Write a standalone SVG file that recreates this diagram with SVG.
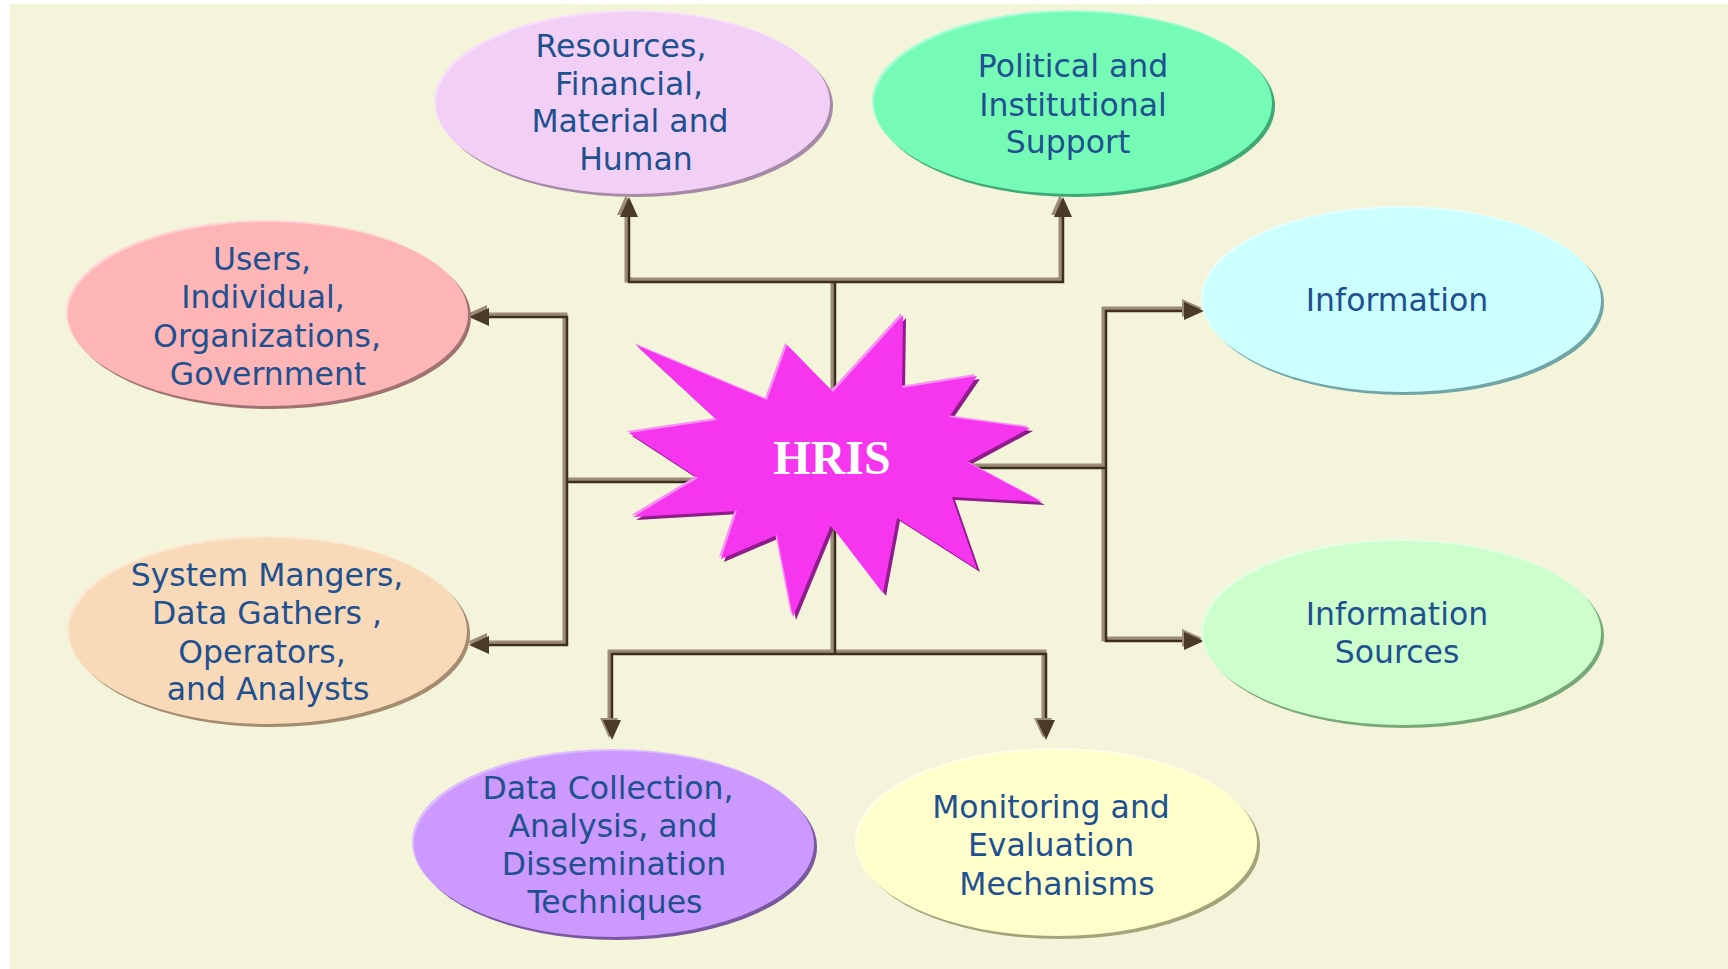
<svg xmlns="http://www.w3.org/2000/svg" xmlns:xlink="http://www.w3.org/1999/xlink" width="1728" height="969" viewBox="0 0 1728 969">
<style>
.lbl{font-family:"DejaVu Sans","Verdana",sans-serif;font-size:31.5px;fill:#1F5090;text-anchor:middle}
.hris{font-family:"Liberation Serif","Times New Roman",serif;font-size:48px;font-weight:bold;fill:#FFFFFF;text-anchor:middle}
.pipeL{fill:none;stroke:#9A8C76;stroke-width:5;stroke-linejoin:miter}
.pipeD{fill:none;stroke:#3C2F1F;stroke-width:2.5;stroke-linejoin:miter}
.ah{fill:#4A3A26}
.ahL{fill:#9A8C76}
</style>
<defs>
<path id="ah" d="M0,0 L-20,-9 L-20,9 Z"/>
</defs>
<rect x="0" y="0" width="1728" height="969" fill="#FFFFFF"/>
<rect x="10" y="4" width="1718" height="965" fill="#F4F4DA"/>

<g id="connectors">
  <g class="pipeL">
    <path d="M833,450 V280 M627,212 V280 H1061 V212"/>
    <path d="M833,450 V652 M610,722 V652 H1044 V722"/>
    <path d="M832,480 H565 M484,315 H565 V643 H484"/>
    <path d="M832,466 H1104 M1186,309 H1104 V639 H1186"/>
  </g>
  <g class="pipeD" transform="translate(2,2)">
    <path d="M833,450 V280 M627,212 V280 H1061 V212"/>
    <path d="M833,450 V652 M610,722 V652 H1044 V722"/>
    <path d="M832,480 H565 M484,315 H565 V643 H484"/>
    <path d="M832,466 H1104 M1186,309 H1104 V639 H1186"/>
  </g>
  <g class="ahL">
    <use xlink:href="#ah" href="#ah" transform="translate(626,195) rotate(-90)"/>
    <use xlink:href="#ah" href="#ah" transform="translate(1060,195) rotate(-90)"/>
    <use xlink:href="#ah" href="#ah" transform="translate(609,738) rotate(90)"/>
    <use xlink:href="#ah" href="#ah" transform="translate(1043,738) rotate(90)"/>
    <use xlink:href="#ah" href="#ah" transform="translate(467,314) rotate(180)"/>
    <use xlink:href="#ah" href="#ah" transform="translate(467,642) rotate(180)"/>
    <use xlink:href="#ah" href="#ah" transform="translate(1202,308)"/>
    <use xlink:href="#ah" href="#ah" transform="translate(1202,638)"/>
  </g>
  <g class="ah">
    <use xlink:href="#ah" href="#ah" transform="translate(629,197) rotate(-90)"/>
    <use xlink:href="#ah" href="#ah" transform="translate(1063,197) rotate(-90)"/>
    <use xlink:href="#ah" href="#ah" transform="translate(612,740) rotate(90)"/>
    <use xlink:href="#ah" href="#ah" transform="translate(1046,740) rotate(90)"/>
    <use xlink:href="#ah" href="#ah" transform="translate(469,317) rotate(180)"/>
    <use xlink:href="#ah" href="#ah" transform="translate(469,645) rotate(180)"/>
    <use xlink:href="#ah" href="#ah" transform="translate(1204,311)"/>
    <use xlink:href="#ah" href="#ah" transform="translate(1204,641)"/>
  </g>
</g>

<g id="hris">
  <polygon transform="translate(3,3)" fill="#8E1C8A" points="636,345 767,400 787,345 833,392 903,315 902,388 977,376 949,417 1030,428 967,462 1042,502 952,497 977,569 897,518 883,593 831,525 793,617 777,535 721,559 737,511 633,517 698,478 629,433 717,420"/>
  <polygon transform="translate(-2,-2)" fill="#F98EF4" points="636,345 767,400 787,345 833,392 903,315 902,388 977,376 949,417 1030,428 967,462 1042,502 952,497 977,569 897,518 883,593 831,525 793,617 777,535 721,559 737,511 633,517 698,478 629,433 717,420"/>
  <polygon fill="#F635EE" points="636,345 767,400 787,345 833,392 903,315 902,388 977,376 949,417 1030,428 967,462 1042,502 952,497 977,569 897,518 883,593 831,525 793,617 777,535 721,559 737,511 633,517 698,478 629,433 717,420"/>
  <text class="hris" x="832" y="474">HRIS</text>
</g>

<g id="resources">
  <ellipse cx="636" cy="106" rx="197" ry="91" fill="#A58AA6"/>
  <ellipse cx="631" cy="101" rx="197" ry="91" fill="#F8E0FA"/>
  <ellipse cx="633" cy="103" rx="197" ry="91" fill="#F2D0F6"/>
  <text class="lbl" x="621" y="57">Resources,</text>
  <text class="lbl" x="629" y="94.5">Financial,</text>
  <text class="lbl" x="630" y="132">Material and</text>
  <text class="lbl" x="636" y="169.5">Human</text>
</g>

<g id="political">
  <ellipse cx="1076" cy="106" rx="199" ry="91" fill="#3FA874"/>
  <ellipse cx="1071" cy="101" rx="199" ry="91" fill="#A8FDD6"/>
  <ellipse cx="1073" cy="103" rx="199" ry="91" fill="#76FBB6"/>
  <text class="lbl" x="1073" y="77">Political and</text>
  <text class="lbl" x="1073" y="116">Institutional</text>
  <text class="lbl" x="1068" y="153">Support</text>
</g>

<g id="users">
  <ellipse cx="271" cy="317" rx="200" ry="92" fill="#A07272"/>
  <ellipse cx="266" cy="312" rx="200" ry="92" fill="#FFD4D4"/>
  <ellipse cx="268" cy="314" rx="200" ry="92" fill="#FDB5B5"/>
  <text class="lbl" x="262" y="270">Users,</text>
  <text class="lbl" x="263" y="308">Individual,</text>
  <text class="lbl" x="267" y="347">Organizations,</text>
  <text class="lbl" x="268" y="385">Government</text>
</g>

<g id="system">
  <ellipse cx="271" cy="634" rx="199" ry="93" fill="#A48C70"/>
  <ellipse cx="266" cy="629" rx="199" ry="93" fill="#FCE8D2"/>
  <ellipse cx="268" cy="631" rx="199" ry="93" fill="#F8DAB8"/>
  <text class="lbl" x="267" y="586">System Mangers,</text>
  <text class="lbl" x="267" y="624">Data Gathers ,</text>
  <text class="lbl" x="262" y="663">Operators,</text>
  <text class="lbl" x="268" y="700">and Analysts</text>
</g>

<g id="datacollection">
  <ellipse cx="617" cy="847" rx="200" ry="93" fill="#7A58A0"/>
  <ellipse cx="612" cy="842" rx="200" ry="93" fill="#DDBBFF"/>
  <ellipse cx="614" cy="844" rx="200" ry="93" fill="#CC99FF"/>
  <text class="lbl" x="608" y="799">Data Collection,</text>
  <text class="lbl" x="613" y="837">Analysis, and</text>
  <text class="lbl" x="614" y="875">Dissemination</text>
  <text class="lbl" x="615" y="913">Techniques</text>
</g>

<g id="monitoring">
  <ellipse cx="1060" cy="846" rx="200" ry="93" fill="#A4A47A"/>
  <ellipse cx="1055" cy="841" rx="200" ry="93" fill="#FFFFE4"/>
  <ellipse cx="1057" cy="843" rx="200" ry="93" fill="#FFFFCC"/>
  <text class="lbl" x="1051" y="818">Monitoring and</text>
  <text class="lbl" x="1051" y="856">Evaluation</text>
  <text class="lbl" x="1057" y="895">Mechanisms</text>
</g>

<g id="information">
  <ellipse cx="1405" cy="303" rx="199" ry="92" fill="#72A6A6"/>
  <ellipse cx="1400" cy="298" rx="199" ry="92" fill="#E4FFFF"/>
  <ellipse cx="1402" cy="300" rx="199" ry="92" fill="#CCFFFF"/>
  <text class="lbl" x="1397" y="311">Information</text>
</g>

<g id="infosources">
  <ellipse cx="1405" cy="636" rx="199" ry="92" fill="#78A878"/>
  <ellipse cx="1400" cy="631" rx="199" ry="92" fill="#E4FFE4"/>
  <ellipse cx="1402" cy="633" rx="199" ry="92" fill="#CCFFCC"/>
  <text class="lbl" x="1397" y="625">Information</text>
  <text class="lbl" x="1397" y="663">Sources</text>
</g>
</svg>
